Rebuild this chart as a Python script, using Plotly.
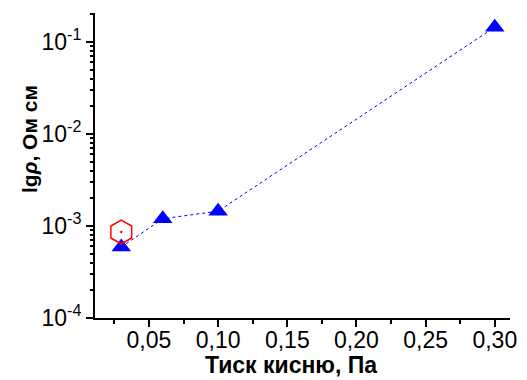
import plotly.graph_objects as go

# Data
pressure = [0.03, 0.06, 0.10, 0.30]
resistivity = [5.9e-4, 1.2e-3, 1.45e-3, 0.145]
extra_x = [0.03]
extra_y = [8.6e-4]

y_tickvals = [1e-4, 1e-3, 1e-2, 1e-1]
y_ticktext = ["10<sup>-4</sup>", "10<sup>-3</sup>", "10<sup>-2</sup>", "10<sup>-1</sup>"]
y_minor = [m * 10.0 ** e for e in (-4, -3, -2, -1) for m in range(2, 10)]
x_tickvals = [0.05, 0.10, 0.15, 0.20, 0.25, 0.30]
x_ticktext = ["0,05", "0,10", "0,15", "0,20", "0,25", "0,30"]
x_minor = [0.025, 0.075, 0.125, 0.175, 0.225, 0.275]
x_title = "<b>Тиск кисню, Па</b>"
y_title = "<b>lg<i>ρ</i>, Ом см</b>"

x_range = [0.011, 0.311]
y_range = [-4, -0.685]

fig = go.Figure()
fig.add_trace(go.Scatter(
    x=pressure, y=resistivity, mode="lines+markers",
    line=dict(color="#0000ff", width=1, dash="dot"),
    marker=dict(symbol="triangle-up", size=17, color="#0000ff"),
))
fig.add_trace(go.Scatter(
    x=extra_x, y=extra_y, mode="markers",
    marker=dict(symbol="hexagon-open-dot", size=24, color="#ff0000", line=dict(width=1.5)),
))
# invisible trace on overlay axes used for minor ticks
fig.add_trace(go.Scatter(x=[x_minor[0]], y=[y_minor[0]], xaxis="x2", yaxis="y2",
                         mode="markers", marker=dict(opacity=0), hoverinfo="skip"))

font = "Liberation Sans, Arial, sans-serif"
fig.update_layout(
    width=527, height=380,
    margin=dict(l=95, r=17, t=13, b=62, autoexpand=False),
    paper_bgcolor="white", plot_bgcolor="white",
    showlegend=False,
    font=dict(family=font, color="black"),
    xaxis=dict(
        range=x_range, automargin=False,
        tickvals=x_tickvals, ticktext=x_ticktext,
        ticks="outside", ticklen=7, tickwidth=1.5, tickcolor="black",
        ticklabelstandoff=-7,
        showline=True, linecolor="black", linewidth=2,
        showgrid=False, zeroline=False,
        tickfont=dict(size=23, family=font),
    ),
    yaxis=dict(
        type="log", range=y_range, automargin=False,
        tickvals=y_tickvals, ticktext=y_ticktext,
        ticks="outside", ticklen=7, tickwidth=1.5, tickcolor="black",
        showline=True, linecolor="black", linewidth=2,
        showgrid=False, zeroline=False,
        tickfont=dict(size=23, family=font),
    ),
    xaxis2=dict(
        range=x_range, overlaying="x", side="bottom", anchor="y",
        tickvals=x_minor, showticklabels=False,
        ticks="outside", ticklen=5, tickwidth=1.5, tickcolor="black",
        showline=False, showgrid=False, zeroline=False, automargin=False,
    ),
    yaxis2=dict(
        type="log", range=y_range, overlaying="y", side="left", anchor="x",
        tickvals=y_minor, showticklabels=False,
        ticks="outside", ticklen=4, tickwidth=1.5, tickcolor="black",
        showline=False, showgrid=False, zeroline=False, automargin=False,
    ),
    annotations=[
        dict(text=x_title, xref="paper", yref="paper", x=(291 - 95) / 415, y=-(365 - 318) / 305,
             xanchor="center", yanchor="middle", showarrow=False, font=dict(size=23, family=font)),
        dict(text=y_title, xref="paper", yref="paper", x=-(95 - 29) / 415, y=(318 - 139) / 305,
             xanchor="center", yanchor="middle", showarrow=False, textangle=-90,
             font=dict(size=21, family=font)),
    ],
)
fig.write_html("out.html")
